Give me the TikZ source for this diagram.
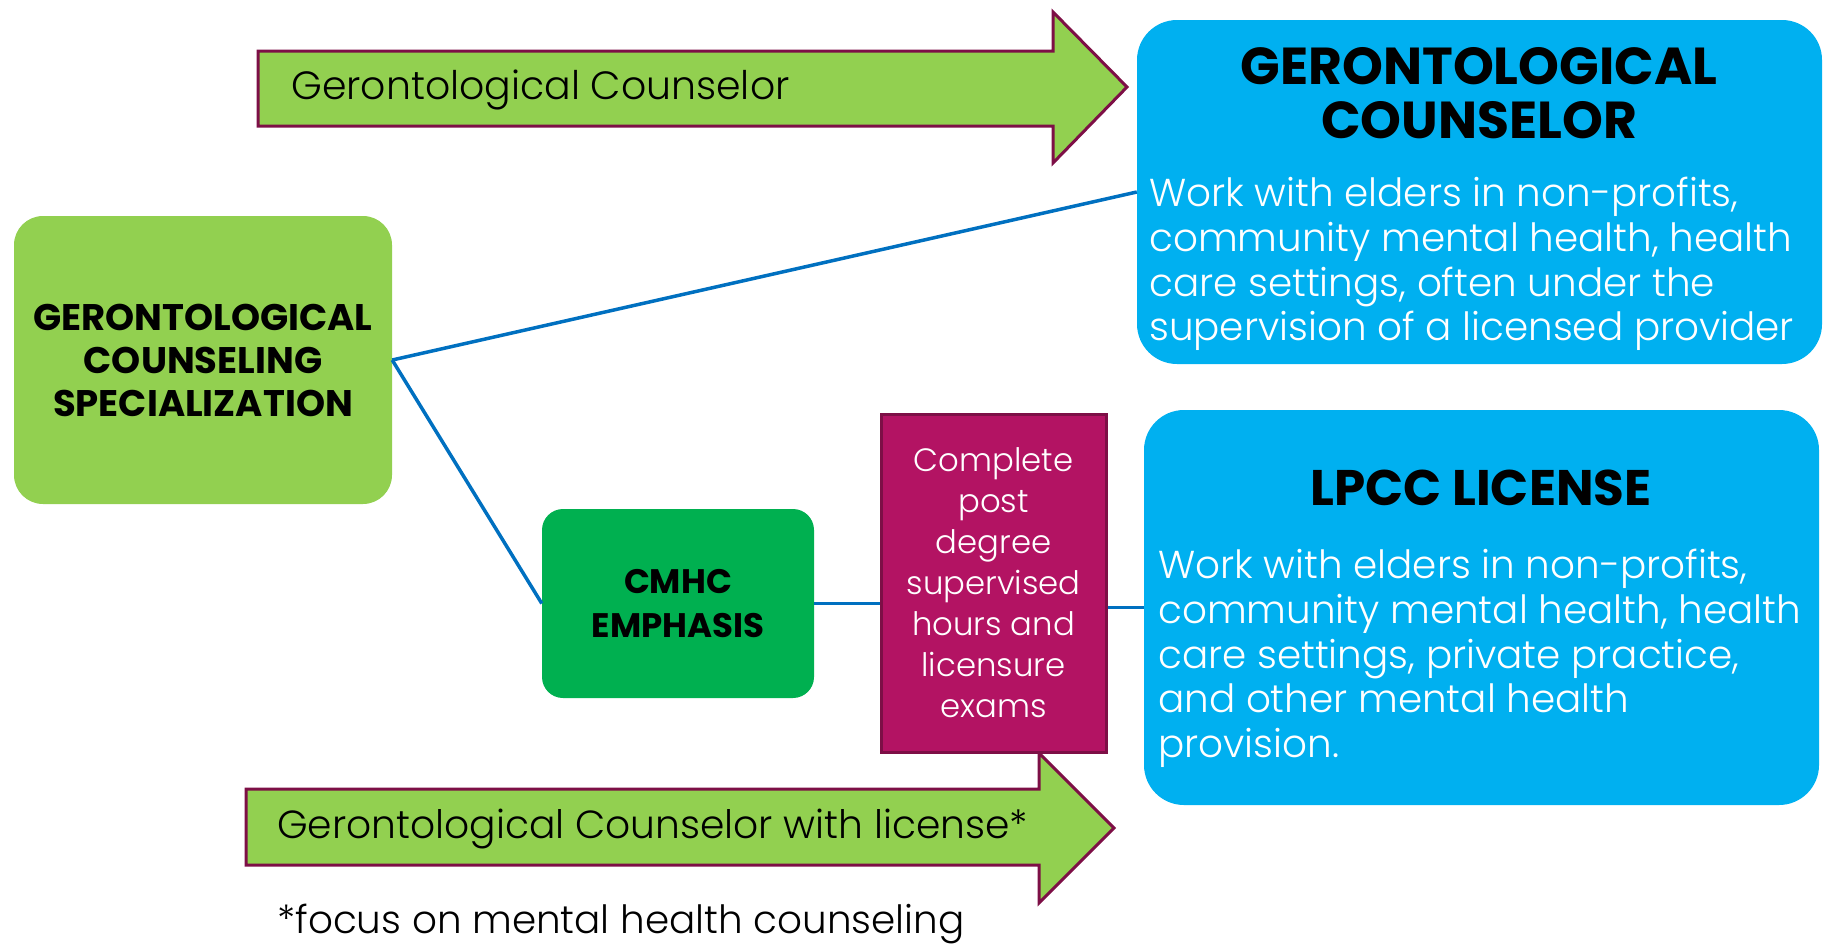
\documentclass[tikz,border=0pt]{standalone}
\usepackage{fontspec}
\setmainfont{Poppins}
\newfontfamily\lightfont{Poppins Light}
\definecolor{lgreen}{HTML}{92D050}
\definecolor{dgreen}{HTML}{00B050}
\definecolor{skyblue}{HTML}{00B0F0}
\definecolor{lineblue}{HTML}{0070C0}
\definecolor{magenta}{RGB}{179,19,99}
\definecolor{maroon}{RGB}{125,15,70}
\tikzset{
  lightbox/.style={fill=lgreen, rounded corners=29pt, inner sep=0pt, align=center, font=\fontsize{37}{43}\selectfont\bfseries},
  darkbox/.style={fill=dgreen, rounded corners=21pt, inner sep=0pt, align=center, font=\fontsize{34}{44}\selectfont\bfseries},
  bluebox/.style={fill=skyblue, rounded corners=40pt, inner sep=0pt},
  purplebox/.style={fill=magenta, draw=maroon, line width=3pt, inner sep=0pt, align=center, text=white, font=\lightfont\fontsize{32.3}{41}\selectfont},
  bigarrow/.style={fill=lgreen, draw=maroon, line width=3pt, line join=miter},
  connector/.style={draw=lineblue, line width=3.5pt},
  titletext/.style={anchor=north, inner sep=0pt, align=center, font=\fontsize{#1}{54}\selectfont\bfseries},
  bodytext/.style={anchor=north west, inner sep=0pt, align=left, text=white, font=\lightfont\fontsize{38.9}{44.7}\selectfont},
  arrowtext/.style={anchor=west, inner sep=0pt, font=\lightfont\fontsize{#1}{44}\selectfont},
}
\begin{document}
\begin{tikzpicture}[x=1pt,y=-1pt]
\useasboundingbox (0,0) rectangle (1825,943);
% big arrows
\draw[bigarrow] (258,51) -- (1053,51) -- (1053,12) -- (1127,87) -- (1053,163) -- (1053,126) -- (258,126) -- cycle;
\node[arrowtext=39.4] (toptext) at (291,90) {Gerontological Counselor};
\draw[bigarrow] (246,789) -- (1039,789) -- (1039,753) -- (1114,828) -- (1039,903) -- (1039,865) -- (246,865) -- cycle;
\node[arrowtext=39.2] (bottext) at (277,829) {Gerontological Counselor with license*};
\node[anchor=base west, inner sep=0pt, font=\lightfont\fontsize{38.9}{44}\selectfont] (foot) at (277,933) {*focus on mental health counseling};
% boxes
\node[lightbox, minimum width=378pt, minimum height=288pt] (spec) at (203,360) {GERONTOLOGICAL\\COUNSELING\\SPECIALIZATION};
\node[darkbox, minimum width=272pt, minimum height=189pt] (cmhc) at (678,603.5) {CMHC\\EMPHASIS};
\node[purplebox, minimum width=225pt, minimum height=338pt] (exam) at (993.5,583) {Complete\\post\\degree\\supervised\\hours and\\licensure\\exams};
\node[bluebox, minimum width=685pt, minimum height=344pt] (gc) at (1479.5,192) {};
\node[titletext=52] (gctitle) at (1479,47) {GERONTOLOGICAL\\COUNSELOR};
\node[bodytext] (gcbody) at (1149,177) {Work with elders in non-profits,\\community mental health, health\\care settings, often under the\\supervision of a licensed provider};
\node[bluebox, minimum width=675pt, minimum height=395pt] (lpcc) at (1481.5,607.5) {};
\node[titletext=50] (lpcctitle) at (1481,470) {LPCC LICENSE};
\node[bodytext] (lpccbody) at (1158,549) {Work with elders in non-profits,\\community mental health, health\\care settings, private practice,\\and other mental health\\provision.};
% connectors
\draw[connector] (spec.east) -- (gc.west);
\draw[connector] (spec.east) -- (cmhc.west);
\draw[connector] (cmhc.east) -- (cmhc.east -| exam.west);
\draw[connector] (lpcc.west -| exam.east) -- (lpcc.west);
\end{tikzpicture}
\end{document}
